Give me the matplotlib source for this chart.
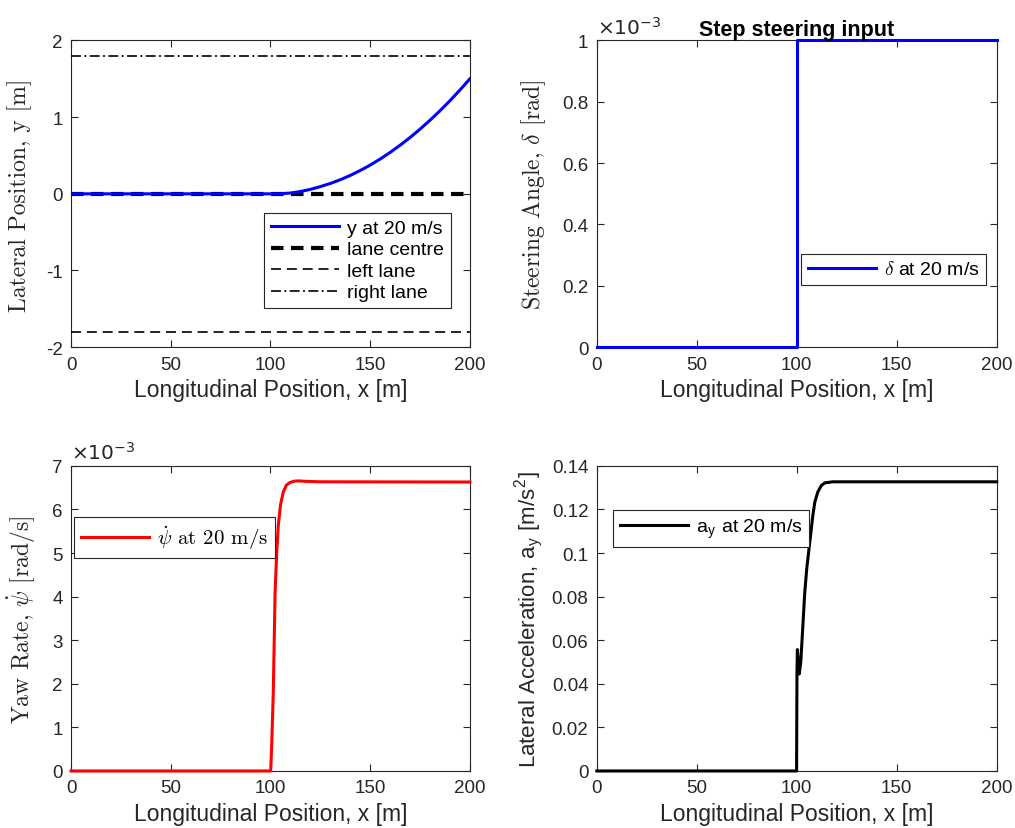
import numpy as np
import matplotlib
matplotlib.use("Agg")
import matplotlib.pyplot as plt
from matplotlib.ticker import FuncFormatter

plt.rcParams['font.family'] = ['Liberation Sans', 'DejaVu Sans']
plt.rcParams['mathtext.fontset'] = 'cm'
plt.rcParams['axes.unicode_minus'] = False

# Data
x_lane = [0, 200]
lane_centre = [0, 0]
left_lane = [-1.8, -1.8]
right_lane = [1.8, 1.8]

x_pos = [0, 100, 105, 110, 115, 120, 125, 130, 135, 140, 145, 150, 155, 160,
         165, 170, 175, 180, 185, 190, 195, 200]
lat_pos = [0, 0, 0.002, 0.01, 0.03, 0.058, 0.094, 0.135, 0.184, 0.24, 0.304,
           0.375, 0.454, 0.54, 0.634, 0.735, 0.844, 0.96, 1.084, 1.215, 1.354, 1.5]

x_steer = [0, 100, 100, 200]
steer = [0, 0, 1e-3, 1e-3]

x_yaw = [0, 100.1, 100.6, 101.4, 102.3, 103.1, 103.9, 105, 106.4, 108, 109.8,
         112, 114, 118, 125, 200]
yaw = [0, 0, 0.6e-3, 1.8e-3, 4.1e-3, 5.0e-3, 5.63e-3, 6.1e-3, 6.4e-3, 6.56e-3,
       6.62e-3, 6.65e-3, 6.655e-3, 6.645e-3, 6.635e-3, 6.63e-3]

x_acc = [0, 99.9, 100.1, 100.3, 101.2, 102, 103, 104, 105, 106.5, 108, 109,
         110.5, 112.3, 114, 118, 125, 200]
acc = [0, 0, 0.045, 0.0557, 0.0445, 0.05, 0.066, 0.082, 0.093, 0.105, 0.117,
       0.1233, 0.128, 0.131, 0.1322, 0.1327, 0.1327, 0.1327]

x_ticks = [0, 50, 100, 150, 200]
axis_col = '#262626'

fig = plt.figure(figsize=(10.15, 8.29), dpi=100)
ax1 = fig.add_axes([0.070, 0.580, 0.393, 0.370])
ax2 = fig.add_axes([0.588, 0.580, 0.394, 0.370])
ax3 = fig.add_axes([0.070, 0.0688, 0.393, 0.368])
ax4 = fig.add_axes([0.588, 0.0688, 0.394, 0.368])


def style(ax):
    ax.set_xlim(0, 200)
    ax.set_xticks(x_ticks)
    ax.tick_params(direction='in', top=True, right=True, length=5, width=0.8,
                   labelsize=13.5, colors=axis_col, pad=6)
    for s in ax.spines.values():
        s.set_linewidth(0.8)
        s.set_color(axis_col)
        s.set_zorder(1)
    ax.set_xlabel('Longitudinal Position, x [m]', fontsize=16.5, color=axis_col,
                  labelpad=4)
    ax.yaxis.set_major_formatter(FuncFormatter(lambda v, p: '%g' % v))


def legend(ax, **kw):
    leg = ax.legend(fontsize=14, fancybox=False, framealpha=1, edgecolor=axis_col,
                    handlelength=3.5, handletextpad=0.4, borderpad=0.35,
                    labelspacing=0.2, borderaxespad=0, **kw)
    leg.get_frame().set_linewidth(0.8)
    return leg


# Lateral position
ax1.plot(x_pos, lat_pos, color='#0000ff', lw=2.2, label='y at 20 m/s', zorder=3)
ax1.plot(x_lane, lane_centre, color='black', lw=3, dashes=(3, 1.8), label='lane centre')
ax1.plot(x_lane, left_lane, color='black', lw=1.2, dashes=(6, 3.5), label='left lane')
ax1.plot(x_lane, right_lane, color='black', lw=1.2, dashes=(6, 2, 1.2, 2), label='right lane')
style(ax1)
ax1.set_ylim(-2, 2)
ax1.set_yticks([-2, -1, 0, 1, 2])
ax1.set_ylabel(r'Lateral Position, y [m]', fontfamily='cmr10', fontsize=17,
               color=axis_col, labelpad=10)
legend(ax1, loc='lower right', bbox_to_anchor=(0.952, 0.127))

# Steering angle
ax2.plot(x_steer, steer, color='#0000ff', lw=2.2, label=r'$\delta$ at 20 m/s',
         clip_on=False, zorder=3)
style(ax2)
ax2.set_ylim(0, 1e-3)
ax2.set_yticks(np.array([0, 0.2, 0.4, 0.6, 0.8, 1.0]) * 1e-3)
ax2.yaxis.set_major_formatter(FuncFormatter(lambda v, p: '%g' % round(v * 1e3, 6)))
ax2.text(0.0, 1.01, r'$\times10^{-3}$', transform=ax2.transAxes, ha='left',
         va='bottom', fontsize=14.5, color=axis_col, math_fontfamily='dejavusans')
ax2.set_title('Step steering input', fontsize=15.5, fontweight='bold', pad=4)
ax2.set_ylabel(r'Steering Angle, $\delta$ [rad]', fontfamily='cmr10', fontsize=17,
               color=axis_col, labelpad=10)
legend(ax2, loc='lower right', bbox_to_anchor=(0.974, 0.202))

# Yaw rate
ax3.plot(x_yaw, yaw, color='#ff0000', lw=2.2, label=r'$\dot{\psi}$ at 20 m/s',
         clip_on=False, zorder=3)
style(ax3)
ax3.set_ylim(0, 7e-3)
ax3.set_yticks(np.arange(0, 8) * 1e-3)
ax3.yaxis.set_major_formatter(FuncFormatter(lambda v, p: '%g' % round(v * 1e3, 6)))
ax3.text(0.0, 1.01, r'$\times10^{-3}$', transform=ax3.transAxes, ha='left',
         va='bottom', fontsize=14.5, color=axis_col, math_fontfamily='dejavusans')
ax3.set_ylabel(r'Yaw Rate, $\dot{\psi}$ [rad/s]', fontfamily='cmr10', fontsize=17,
               color=axis_col, labelpad=10)
leg3 = legend(ax3, loc='upper left', bbox_to_anchor=(0.0075, 0.834))
for t in leg3.get_texts():
    t.set_fontfamily('cmr10')
    t.set_fontsize(15)

# Lateral acceleration
ax4.plot(x_acc, acc, color='black', lw=2.2, label=r'a$_\mathregular{y}$ at 20 m/s',
         clip_on=False, zorder=3)
style(ax4)
ax4.set_ylim(0, 0.14)
ax4.set_yticks([0, 0.02, 0.04, 0.06, 0.08, 0.1, 0.12, 0.14])
ax4.set_ylabel(r'Lateral Acceleration, a$_\mathregular{y}$ [m/s$^\mathregular{2}$]',
               fontsize=16, color=axis_col, labelpad=4)
leg4 = legend(ax4, loc='upper left', bbox_to_anchor=(0.041, 0.857))

fig.savefig('out.png', dpi=100)
